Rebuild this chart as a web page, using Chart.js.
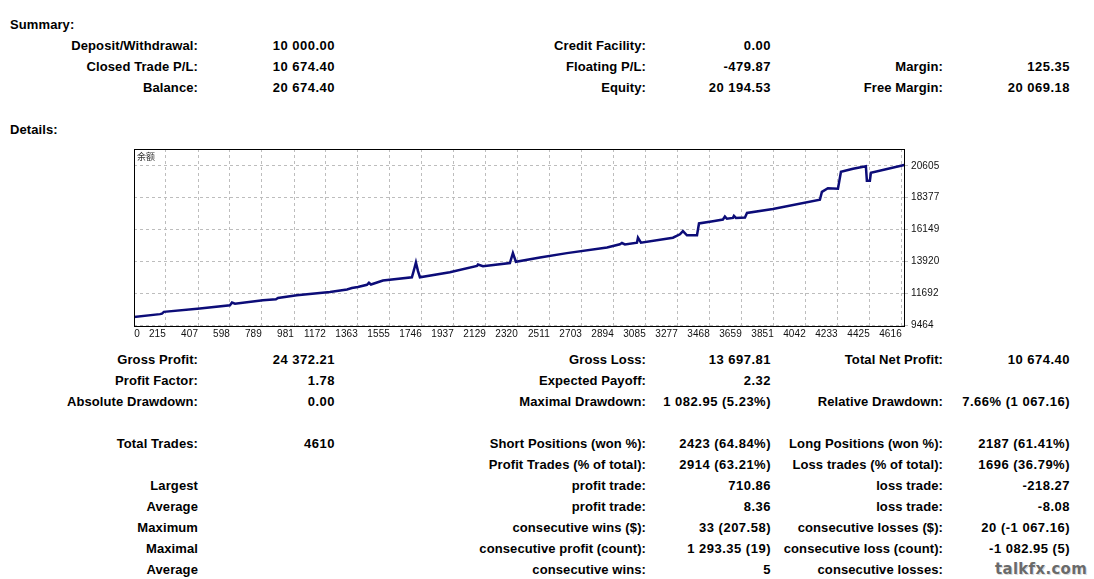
<!DOCTYPE html>
<html>
<head>
<meta charset="utf-8">
<title>Strategy Tester Report</title>
<script src="https://cdn.jsdelivr.net/npm/chart.js@4.4.1/dist/chart.umd.min.js"></script>
<style>
    body {
        margin: 0;
        width: 1094px;
        height: 579px;
        overflow: hidden;
        position: relative;
        background: #fff;
        color: #000;
        font-family: "Liberation Sans", Arial, sans-serif;
        font-weight: bold;
        font-size: 13px;
        letter-spacing: 0.1px;
    }
    .t { position: absolute; white-space: nowrap; line-height: 16px; height: 16px; }
    .v { letter-spacing: 0.5px; }
    #chartBox { position: absolute; left: 120px; top: 140px; width: 840px; height: 210px; }
    #chartTag {
        position: absolute; left: 137px; top: 151px; z-index: 2;
        font-family: "Noto Sans CJK SC", sans-serif; font-weight: normal;
        font-size: 9px; letter-spacing: 0; color: #333; line-height: 12px;
    }
    #mark {
        position: absolute; left: 995px; top: 560px; z-index: 3;
        font-family: "DejaVu Sans", sans-serif; font-size: 15px; letter-spacing: 0.3px;
        color: #6a6a6a; text-shadow: 0 0 1px #fff, 1px 1px 0 #d8d8d8;
    }
</style>
</head>
<body>
<div id="chartBox"><canvas id="balanceChart"></canvas></div>
<div id="chartTag">余额</div>
<div id="mark">talkfx.com</div>
<script>
// balance curve (trade number -> balance)
const tradeNo = [0, 179, 191, 203, 418, 598, 610, 628, 795, 873, 885, 998, 1196, 1298, 1327, 1363,
    1417, 1429, 1441, 1513, 1686, 1698, 1710, 1722, 1734, 1913, 2075, 2081, 2111, 2272, 2290, 2308,
    2452, 2613, 2853, 2930, 2942, 2960, 3032, 3038, 3056, 3247, 3289, 3307, 3331, 3391, 3403, 3486,
    3546, 3558, 3570, 3606, 3612, 3624, 3678, 3690, 3845, 4126, 4138, 4174, 4234, 4252, 4324, 4401,
    4407, 4425, 4431, 4630];
const balance = [10000, 10225, 10260, 10384, 10620, 10848, 11035, 10960, 11194, 11260, 11350, 11540,
    11770, 11955, 12050, 12120, 12280, 12420, 12300, 12578, 12806, 13300, 13845, 13250, 12806, 13152,
    13600, 13700, 13580, 13803, 14495, 13893, 14190, 14495, 14882, 15117, 15200, 15100, 15228, 15574,
    15228, 15574, 15810, 16038, 15740, 15740, 16570, 16730, 16847, 17050, 16900, 16960, 17100, 16960,
    16980, 17307, 17581, 18232, 18780, 19034, 19000, 20190, 20400, 20580, 19567, 19567, 20120, 20660];

const xTickLabels = ['0', '215', '407', '598', '789', '981', '1172', '1363', '1555', '1746', '1937',
    '2129', '2320', '2511', '2703', '2894', '3085', '3277', '3468', '3659', '3851', '4042', '4233',
    '4425', '4616'];
const yTickLabels = ['9464', '11692', '13920', '16149', '18377', '20605'];

const summaryRows = [
    ['Deposit/Withdrawal:', '10 000.00', 'Credit Facility:', '0.00', '', ''],
    ['Closed Trade P/L:', '10 674.40', 'Floating P/L:', '-479.87', 'Margin:', '125.35'],
    ['Balance:', '20 674.40', 'Equity:', '20 194.53', 'Free Margin:', '20 069.18']
];
const detailRows = [
    ['Gross Profit:', '24 372.21', 'Gross Loss:', '13 697.81', 'Total Net Profit:', '10 674.40'],
    ['Profit Factor:', '1.78', 'Expected Payoff:', '2.32', '', ''],
    ['Absolute Drawdown:', '0.00', 'Maximal Drawdown:', '1 082.95 (5.23%)', 'Relative Drawdown:', '7.66% (1 067.16)'],
    null,
    ['Total Trades:', '4610', 'Short Positions (won %):', '2423 (64.84%)', 'Long Positions (won %):', '2187 (61.41%)'],
    ['', '', 'Profit Trades (% of total):', '2914 (63.21%)', 'Loss trades (% of total):', '1696 (36.79%)'],
    ['Largest', '', 'profit trade:', '710.86', 'loss trade:', '-218.27'],
    ['Average', '', 'profit trade:', '8.36', 'loss trade:', '-8.08'],
    ['Maximum', '', 'consecutive wins ($):', '33 (207.58)', 'consecutive losses ($):', '20 (-1 067.16)'],
    ['Maximal', '', 'consecutive profit (count):', '1 293.35 (19)', 'consecutive loss (count):', '-1 082.95 (5)'],
    ['Average', '', 'consecutive wins:', '5', 'consecutive losses:', '']
];

// right edges of the six text columns
const colRight = [198, 335, 646, 771, 943, 1070];

function addText(text, x, cy, alignRight, isValue) {
    if (!text) return;
    const el = document.createElement('div');
    el.className = isValue ? 't v' : 't';
    el.textContent = text;
    el.style.top = (cy - 7) + 'px';
    if (alignRight) el.style.right = (1094 - x) + 'px';
    else el.style.left = x + 'px';
    document.body.appendChild(el);
}

function addRows(rows, firstY) {
    rows.forEach((row, i) => {
        if (!row) return;
        row.forEach((cell, c) => addText(cell, colRight[c], firstY + i * 21, true, c % 2 === 1));
    });
}

addText('Summary:', 10, 24, false);
addRows(summaryRows, 45);
addText('Details:', 10, 129, false);
addRows(detailRows, 359);

const xTickAt = xTickLabels.map(Number);
xTickAt[0] = 60; // MT4 prints the "0" just inside the left edge

const ctx = document.getElementById('balanceChart').getContext('2d');

const framePlugin = {
    id: 'frame',
    afterDraw(chart) {
        const a = chart.chartArea;
        chart.ctx.save();
        chart.ctx.strokeStyle = '#000';
        chart.ctx.lineWidth = 1;
        chart.ctx.strokeRect(a.left + 0.5, a.top + 0.5, a.right - a.left - 1, a.bottom - a.top);
        chart.ctx.restore();
    }
};

new Chart(ctx, {
    type: 'line',
    data: {
        datasets: [{
            label: 'Balance',
            data: tradeNo.map((t, i) => ({ x: t, y: balance[i] })),
            borderColor: '#0c0c78',
            borderWidth: 2.5,
            pointRadius: 0,
            tension: 0,
            fill: false
        }]
    },
    options: {
        responsive: true,
        maintainAspectRatio: false,
        animation: false,
        layout: { padding: { left: 14, top: 7, right: 10, bottom: 4 } },
        scales: {
            x: {
                type: 'linear',
                min: 24,
                max: 4635,
                afterBuildTicks: scale => { scale.ticks = xTickAt.map(v => ({ value: v })); },
                afterFit: scale => { scale.height = 20; },
                border: { display: false, dash: [3, 3] },
                grid: {
                    drawTicks: false,
                    color: c => (c.index === 0 ? 'rgba(0,0,0,0)' : '#bdbdbd')
                },
                ticks: {
                    align: 'end',
                    padding: 2,
                    maxRotation: 0,
                    autoSkip: false,
                    color: '#111',
                    font: { family: 'Liberation Sans', size: 10 },
                    callback: (v, i) => xTickLabels[i]
                }
            },
            y: {
                position: 'right',
                min: 9395,
                max: 21780,
                afterBuildTicks: scale => { scale.ticks = yTickLabels.map(v => ({ value: Number(v) })); },
                afterFit: scale => { scale.width = 45; },
                border: { display: false, dash: [3, 3] },
                grid: { color: '#bdbdbd', tickLength: 3, tickBorderDash: [] },
                ticks: {
                    padding: 3,
                    color: '#111',
                    font: { family: 'Liberation Sans', size: 10 },
                    callback: (v, i) => yTickLabels[i]
                }
            }
        },
        plugins: {
            legend: { display: false },
            title: { display: false },
            tooltip: { enabled: false }
        }
    },
    plugins: [framePlugin]
});
</script>
</body>
</html>
